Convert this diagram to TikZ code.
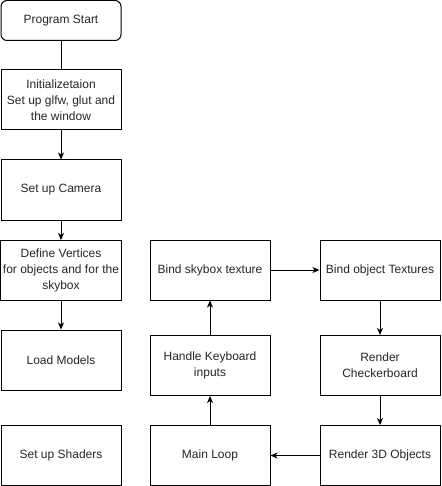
\documentclass[tikz,border=0pt]{standalone}
\usepackage{fontspec}
\setmainfont{Liberation Sans}
\usetikzlibrary{arrows.meta}
\begin{document}
\begin{tikzpicture}[x=1pt,y=-1pt,
  box/.style={draw=black,line width=1pt,fill=white,minimum width=120pt,minimum height=60pt,align=center,inner sep=2pt,font=\fontsize{12}{16}\selectfont,text=black!85},
  startbox/.style={box,minimum height=40pt,rounded corners=6pt},
  conn/.style={line width=1pt,draw=black},
  arr/.style={conn,-{Stealth[length=7pt,width=6pt,inset=2pt]}}]
\useasboundingbox (0,0) rectangle (441,486);
\node[startbox] (start) at (61,20.5) {Program Start};
\node[box] (init) at (61,100) {Initializetaion\\Set up glfw, glut and\\the window};
\node[box] (cam) at (61,190) {Set up Camera};
\node[box] (def) at (61,270.5) {Define Vertices\\for objects and for the\\skybox};
\node[box] (load) at (61,360) {Load Models};
\node[box] (shade) at (61,455.5) {Set up Shaders};
\node[box] (sky) at (210,270) {Bind skybox texture};
\node[box] (key) at (210,365.5) {Handle Keyboard\\inputs};
\node[box] (main) at (210,455.5) {Main Loop};
\node[box] (obj) at (380,270) {Bind object Textures};
\node[box] (check) at (380,365.5) {Render\\Checkerboard};
\node[box] (r3d) at (380,455.5) {Render 3D Objects};
\draw[conn] (start) -- (init);
\draw[arr] (init) -- (cam);
\draw[arr] (cam) -- (def);
\draw[arr] (def) -- (load);
\draw[arr] (main) -- (key);
\draw[arr] (key) -- (sky);
\draw[arr] (sky) -- (obj);
\draw[arr] (obj) -- (check);
\draw[arr] (check) -- (r3d);
\draw[arr] (r3d) -- (main);
\end{tikzpicture}
\end{document}
